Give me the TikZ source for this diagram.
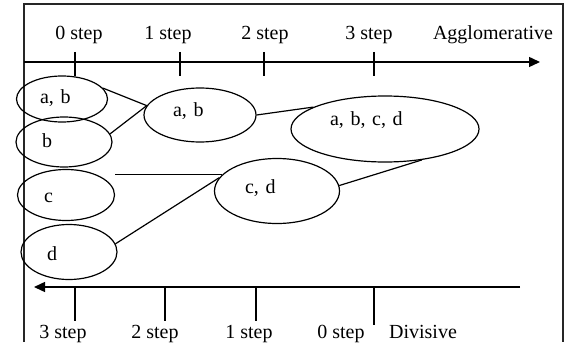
\documentclass[tikz,border=0pt]{standalone}
\usepackage{fontspec}
\setmainfont{Liberation Serif}
\usetikzlibrary{shapes.geometric, arrows.meta}

\begin{document}
\begin{tikzpicture}[
    x=0.5pt, y=-0.5pt,
    cluster/.style={draw, ellipse, line width=0.6pt, inner sep=0pt, align=left, text height=7pt, text depth=2pt},
    axis/.style={-{Triangle[length=5.5pt, width=5pt]}, line width=0.7pt},
    stepline/.style={line width=0.7pt},
    link/.style={line width=0.6pt},
    steplabel/.style={inner sep=0pt, text height=7pt, text depth=2pt},
]
    \useasboundingbox (0,0) rectangle (566,342);
    % frame, open at the bottom
    \draw[line width=0.7pt, black!85] (24,342) -- (24,4) -- (563,4) -- (563,342);

    % agglomerative axis
    \coordinate (aggstart) at (24,62);
    \coordinate (aggend) at (540,62);
    \draw[axis] (aggstart) -- (aggend);
    \draw[stepline] (75,52) -- (75,76);
    \draw[stepline] (180,52) -- (180,76);
    \draw[stepline] (264,52) -- (264,76);
    \draw[stepline] (374,52) -- (374,76);
    \node[steplabel] (top0) at (79,35) {0 step};
    \node[steplabel] (top1) at (168,35) {1 step};
    \node[steplabel] (top2) at (265,35) {2 step};
    \node[steplabel] (top3) at (369,35) {3 step};
    \node[steplabel] (aggl) at (493,35) {Agglomerative};

    % divisive axis
    \coordinate (divstart) at (520,287);
    \coordinate (divend) at (34,287);
    \draw[axis] (divstart) -- (divend);
    \draw[stepline] (75,287) -- (75,321);
    \draw[stepline] (165,287) -- (165,321);
    \draw[stepline] (256,287) -- (256,321);
    \draw[stepline] (374,287) -- (374,325);
    \node[steplabel] (bot3) at (63,333) {3 step};
    \node[steplabel] (bot2) at (155,333) {2 step};
    \node[steplabel] (bot1) at (249,333) {1 step};
    \node[steplabel] (bot0) at (341,333) {0 step};
    \node[steplabel] (divi) at (423,333) {Divisive};

    % clusters
    \node[cluster, minimum width=45.5pt, minimum height=23pt, text width=22pt] (ab0) at (62,99) {a, b};
    \node[cluster, minimum width=48pt, minimum height=25pt, text width=22pt] (b0) at (64,142) {b};
    \node[cluster, minimum width=48.5pt, minimum height=25.5pt, text width=22pt, text height=9pt] (c0) at (66,195) {c};
    \node[cluster, minimum width=48pt, minimum height=27.5pt, text width=22pt, text height=10pt] (d0) at (69,252) {d};
    \node[cluster, minimum width=56pt, minimum height=27pt, text width=27pt, text depth=6pt] (ab1) at (200,115) {a, b};
    \node[cluster, minimum width=94pt, minimum height=33pt, text width=55pt, text depth=11pt] (abcd) at (385,129) {a, b, c, d};
    \node[cluster, minimum width=62.5pt, minimum height=32.5pt, text width=32pt, text depth=5pt] (cd1) at (277,191) {c, d};

    % merges
    \draw[link] (ab0.15) -- (ab1.170);
    \draw[link] (b0.10) -- (ab1.170);
    \draw[link] (ab1.east) -- (abcd.163);
    \draw[link] (cd1.163 -| c0.east) -- (cd1.163);
    \draw[link] (d0.10) -- (cd1.167);
    \draw[link] (cd1.5) -- (abcd.320);
\end{tikzpicture}
\end{document}
